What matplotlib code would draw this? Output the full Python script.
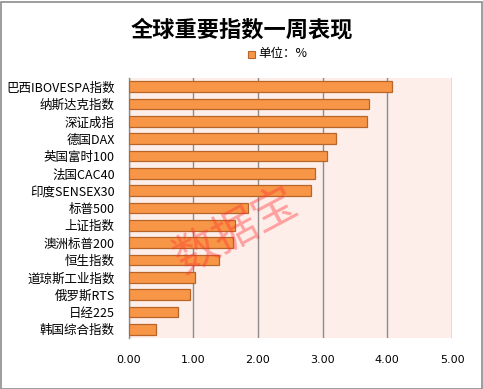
import matplotlib
matplotlib.use("Agg")
import matplotlib.pyplot as plt
from matplotlib.patches import Rectangle

plt.rcParams['font.family'] = ['Noto Sans CJK SC', 'DejaVu Sans']

# index names and weekly change (%)
names = ["巴西IBOVESPA指数", "纳斯达克指数", "深证成指", "德国DAX", "英国富时100",
         "法国CAC40", "印度SENSEX30", "标普500", "上证指数", "澳洲标普200",
         "恒生指数", "道琼斯工业指数", "俄罗斯RTS", "日经225", "韩国综合指数"]
changes = [4.07, 3.72, 3.69, 3.20, 3.07, 2.89, 2.82, 1.85, 1.64, 1.62,
           1.40, 1.03, 0.95, 0.77, 0.42]
xticks = [0, 1, 2, 3, 4, 5]

fig = plt.figure(figsize=(4.83, 3.89), dpi=100)
ax = fig.add_axes([128.5/483, 1-338/389, (452-128.5)/483, (338-78)/389])
ax.set_facecolor("#FDEEEA")

ypos = list(range(len(names)))
ax.barh(ypos, changes, height=0.6, color="#F79646", edgecolor="#B8652A", linewidth=0.9, zorder=3)
ax.set_ylim(len(names) - 0.5, -0.5)
ax.set_xlim(0, 5)
ax.set_yticks(ypos)
ax.set_yticklabels(names, fontsize=9)
ax.set_xticks(xticks)
ax.set_xticklabels(["%.2f" % v for v in xticks], fontsize=8, family=['DejaVu Sans'])
ax.tick_params(axis='y', length=0, pad=10)
ax.tick_params(axis='x', length=0, pad=12)
ax.grid(axis='x', color="#8C8C8C", linewidth=1, zorder=1)
for s in ["top", "right", "bottom"]:
    ax.spines[s].set_visible(False)
ax.spines["left"].set_color("#8C8C8C")
ax.spines["left"].set_linewidth(1)

fig.text(0.5, 1-30/389, "全球重要指数一周表现", ha="center", va="center", fontsize=16, fontweight="bold")
fig.patches.append(Rectangle((248/483, 1-58/389), 7/483, 7/389, transform=fig.transFigure,
                             facecolor="#F79646", edgecolor="#B8652A", linewidth=0.8))
fig.text(258/483, 1-53.5/389, "单位：%", ha="left", va="center", fontsize=9)

# watermark
fig.text(236/483, 1-232/389, "数据宝", ha="center", va="center", fontsize=32, rotation=28,
         color="#FF3030", alpha=0.4, zorder=10)

fig.patches.append(Rectangle((0.5/483, 0.5/389), 481.5/483, 387/389, transform=fig.transFigure,
                             fill=False, edgecolor="#8C8C8C", linewidth=1.2))

fig.savefig("out.png", dpi=100)
